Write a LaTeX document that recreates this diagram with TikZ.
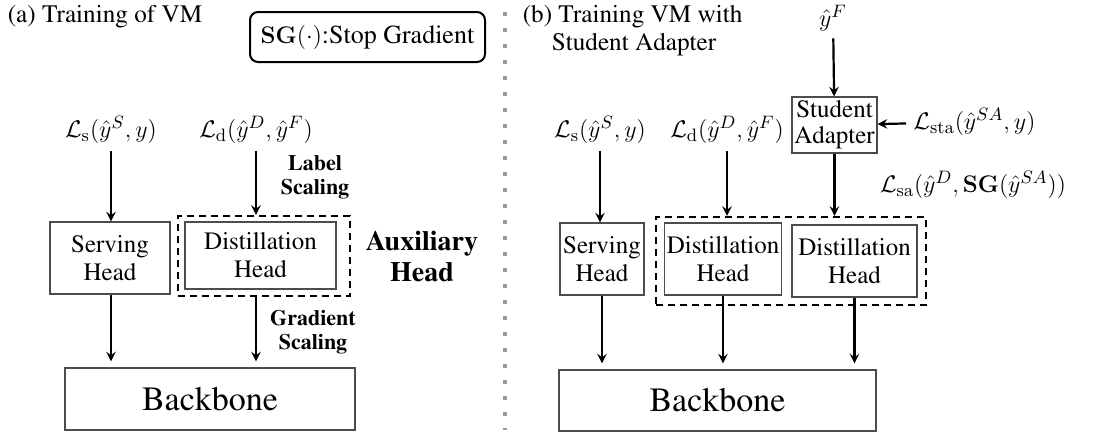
\documentclass[tikz,border=0pt]{standalone}
\usepackage[T1]{fontenc}
\usepackage{amsmath}
\usepackage{amsfonts}
\renewcommand{\rmdefault}{ptm}
\usetikzlibrary{shapes,arrows,positioning}

\begin{document}
\begin{tikzpicture}[
    x=0.5pt, y=-0.5pt,
    thick,
    head/.style={rectangle, draw=black!70, line width=0.6pt, align=center, inner sep=1pt, font=\fontsize{12.5}{14}\selectfont},
    backbone/.style={rectangle, draw=black!70, line width=0.6pt, font=\fontsize{17}{19}\selectfont},
    group/.style={rectangle, draw=black, dashed, line width=1.1pt, dash pattern=on 3.5pt off 2.5pt},
    loss/.style={font=\fontsize{13}{15}\selectfont},
    note/.style={font=\bfseries\fontsize{11}{12}\selectfont, align=center},
    title/.style={font=\fontsize{12.6}{14}\selectfont, align=left, anchor=north west, inner sep=0pt},
    arrow/.style={line width=1.1pt, ->, >=stealth}
]
\useasboundingbox (0,0) rectangle (1096,434);
% Divider
\draw[black!40, line width=2pt, dash pattern=on 2pt off 6pt] (505,12) -- (505,430);
% (a) Training of VM
\node[title] (titleA) at (7,5) {(a) Training of VM};
\node[rectangle, rounded corners=4pt, draw=black, line width=1pt, minimum width=117.5pt, minimum height=25pt, inner sep=2pt, font=\fontsize{13}{15}\selectfont] (legend) at (367.5,37) {$\mathbf{SG}(\cdot)$:Stop Gradient};
\node[loss] (lsA) at (111,130) {$\mathcal{L}_\mathrm{s}(\hat{y}^S,y)$};
\node[loss] (ldA) at (256,130) {$\mathcal{L}_\mathrm{d}(\hat{y}^D,\hat{y}^F)$};
\node[head, minimum width=60pt, minimum height=36pt] (servA) at (110,258) {Serving\\Head};
\node[group, minimum width=86pt, minimum height=40pt] (auxA) at (264,256) {};
\node[head, minimum width=75.5pt, minimum height=33.5pt] (distA) at (260.5,255.5) {Distillation\\Head};
\node[backbone, minimum width=145pt, minimum height=31pt] (bbA) at (210,399) {Backbone};
\node[note] (lscale) at (315,177) {Label\\Scaling};
\node[note] (gscale) at (313,332) {Gradient\\Scaling};
\node[note, font=\bfseries\fontsize{14}{15.5}\selectfont] (auxname) at (422,257) {Auxiliary\\Head};
% Arrows (a)
\draw[arrow] (lsA) -- (lsA |- servA.north);
\draw[arrow] (ldA) -- (ldA |- auxA.north);
\draw[arrow, shorten >=3pt] (servA.south -| lsA) -- (lsA |- bbA.north);
\draw[arrow, shorten >=3pt] (auxA.south -| ldA) -- (ldA |- bbA.north);
% (b) Training VM with Student Adapter
\node[title] (titleB) at (522,5) {(b) Training VM with\\\hspace{14.5pt}Student Adapter};
\node[loss] (yF) at (833,18) {$\hat{y}^F$};
\node[head, minimum width=42.5pt, minimum height=28pt, font=\fontsize{12.5}{13}\selectfont] (sa) at (834.5,125) {Student\\Adapter};
\node[loss, anchor=west] (lsta) at (906,122) {$\mathcal{L}_\mathrm{sta}(\hat{y}^{SA},y)$};
\node[loss] (lsa) at (973,185) {$\mathcal{L}_\mathrm{sa}(\hat{y}^D,\mathbf{SG}(\hat{y}^{SA}))$};
\node[loss] (lsB) at (600,130) {$\mathcal{L}_\mathrm{s}(\hat{y}^S,y)$};
\node[loss] (ldB) at (727,130) {$\mathcal{L}_\mathrm{d}(\hat{y}^D,\hat{y}^F)$};
\node[group, minimum width=135pt, minimum height=44pt] (auxB) at (791,261) {};
\node[head, minimum width=42pt, minimum height=36pt] (servB) at (602,259) {Serving\\Head};
\node[head, minimum width=55.5pt, minimum height=36pt] (distB) at (723,259) {Distillation\\Head};
\node[head, minimum width=62.5pt, minimum height=36pt] (distBb) at (854.5,261) {Distillation\\Head};
\node[backbone, minimum width=158.5pt, minimum height=30.5pt] (bbB) at (717.5,400.5) {Backbone};
% Arrows (b)
\draw[arrow] (yF) -- (sa);
\draw[arrow] (lsta) -- (sa);
\draw[arrow] (lsB) -- (lsB |- servB.north);
\draw[arrow] (ldB) -- (ldB |- auxB.north);
\draw[arrow] (sa) -- (sa |- auxB.north);
\draw[arrow, shorten >=3pt] (servB) -- (servB |- bbB.north);
\draw[arrow, shorten >=3pt] (distB.south) -- (distB |- bbB.north);
\draw[arrow, shorten >=3pt] (distBb.south) -- (distBb |- bbB.north);
\end{tikzpicture}
\end{document}
